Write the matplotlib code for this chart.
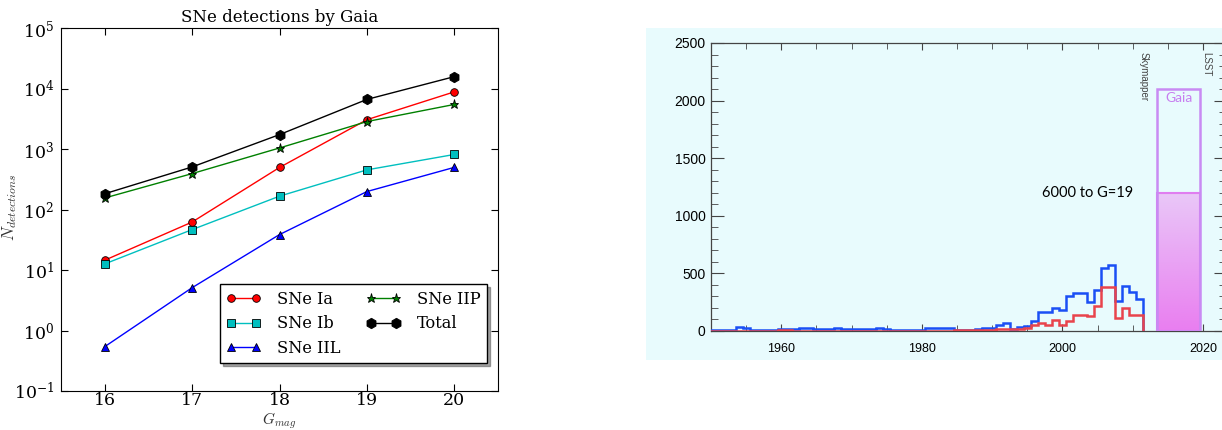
import numpy as np
import matplotlib
matplotlib.use('Agg')
import matplotlib.pyplot as plt
from matplotlib.patches import Rectangle
from matplotlib.colors import LinearSegmentedColormap
from matplotlib.ticker import MultipleLocator, NullLocator

plt.rcParams['font.family'] = 'DejaVu Serif'
plt.rcParams['mathtext.fontset'] = 'dejavuserif'

# Left panel: SNe detections by Gaia vs magnitude limit
gmag = [16, 17, 18, 19, 20]
sne_ia = [14.5, 62, 495, 3050, 8800]
sne_ib = [12.6, 46.5, 166, 452, 812]
sne_iil = [0.54, 5.1, 38.5, 198, 497]
sne_iip = [155, 392, 1040, 2840, 5450]
total = [182, 505, 1730, 6600, 15700]

# Right panel: SNe discovered per year (blue = all, red = subset)
years = list(range(1950, 2012))
blue_counts = [12, 12, 12, 12, 35, 25, 8, 8, 8, 8,
               20, 20, 20, 28, 28, 15, 15, 15, 28, 15,
               20, 20, 20, 15, 22, 15, 12, 12, 10, 12,
               12, 25, 25, 22, 22, 12, 12, 12, 20, 26,
               26, 55, 70, 17, 32, 46, 90, 162, 162, 197,
               180, 301, 330, 330, 249, 359, 547, 570, 258, 388,
               336, 281]
red_counts = [3, 3, 3, 3, 3, 3, 3, 3, 3, 3,
              8, 8, 3, 3, 3, 3, 3, 3, 3, 3,
              3, 3, 3, 3, 3, 3, 3, 3, 3, 3,
              3, 3, 3, 3, 3, 5, 5, 5, 8, 12,
              12, 20, 20, 17, 17, 30, 55, 70, 55, 98,
              55, 90, 142, 135, 127, 214, 382, 382, 113, 197,
              142, 142]
gaia_span = [2013.5, 2019.6]
gaia_total = 2100
gaia_g19 = 1200

fig = plt.figure(figsize=(12.22, 4.30), dpi=100)

# cyan backdrop behind the right panel
fig.patches.append(Rectangle((646/1222, 1-360/430), 576/1222, 332/430,
                             transform=fig.transFigure, facecolor='#e8fbfd',
                             edgecolor='none', zorder=-5))

# ---- left panel ----
ax = fig.add_axes([61/1222, 1-391/430, 437/1222, 363/430])
mk = dict(mec='k', mew=0.6, lw=1)
ax.plot(gmag, sne_ia, 'o-', color='r', ms=5.5, label='SNe Ia', **mk)
ax.plot(gmag, sne_ib, 's-', color='c', ms=5.5, label='SNe Ib', **mk)
ax.plot(gmag, sne_iil, '^-', color='b', ms=5.5, label='SNe IIL', **mk)
ax.plot(gmag, sne_iip, '*-', color='g', ms=6.5, label='SNe IIP', **mk)
ax.plot(gmag, total, 'h-', color='k', ms=7.5, label='Total', **mk)
ax.set_yscale('log')
ax.set_ylim(0.1, 1e5)
ax.set_xlim(15.5, 20.5)
ax.set_xticks(gmag)
ax.yaxis.set_minor_locator(NullLocator())
ax.tick_params(direction='in', top=True, right=True, length=5, labelsize=12.5)
ax.tick_params(axis='x', pad=1)
ax.tick_params(axis='y', pad=5)
ax.set_title('SNe detections by Gaia', fontsize=12, pad=4)
ax.set_xlabel('$G_{mag}$', fontsize=11, math_fontfamily='cm', color='#333333')
ax.set_ylabel('$N_{detections}$', fontsize=12, math_fontfamily='cm', color='#333333')
ax.xaxis.set_label_coords(0.5, -0.053)
ax.yaxis.set_label_coords(-0.095, 0.507)
leg = ax.legend(loc='lower right', bbox_to_anchor=(0.975, 0.077), borderaxespad=0,
                ncol=2, numpoints=2, shadow=True, fancybox=False, fontsize=11.7,
                handlelength=2.1, handletextpad=1.0, columnspacing=1.6,
                labelspacing=0.45, edgecolor='k', framealpha=1)
leg.get_frame().set_linewidth(1.0)

# ---- right panel ----
ax2 = fig.add_axes([711/1222, 1-331/430, 515/1222, 288/430])
ax2.patch.set_alpha(0)
edges = np.append(np.array(years) - 0.5, years[-1] + 0.5)
ax2.stairs(blue_counts, edges, baseline=0, color='#1a4ff5', lw=1.8, zorder=3)
ax2.stairs(red_counts, edges, baseline=0, color='#e8444c', lw=1.8, zorder=4)

gw = gaia_span[1] - gaia_span[0]
gc = gaia_span[0] + gw / 2
fill = ax2.bar(gc, gaia_g19, width=gw, color='none', edgecolor='#e07ef0', lw=1.5, zorder=3)
p = fill[0]
cmap = LinearSegmentedColormap.from_list('gaia', ['#e97ef0', '#e9c8f8'])
img = ax2.imshow(np.linspace(0, 1, 256).reshape(-1, 1), origin='lower', cmap=cmap,
                 extent=(p.get_x(), p.get_x() + p.get_width(), 0, p.get_height()),
                 aspect='auto', zorder=2)
img.set_clip_path(p)
ax2.bar(gc, gaia_total, width=gw, fill=False, edgecolor='#c98af3', lw=1.8, zorder=3)

ax2.set_xlim(1950, 2023.26)
ax2.set_ylim(0, 2500)
ax2.xaxis.set_major_locator(MultipleLocator(20))
ax2.xaxis.set_minor_locator(MultipleLocator(5))
ax2.yaxis.set_major_locator(MultipleLocator(500))
ax2.yaxis.set_minor_locator(MultipleLocator(100))
for s in ax2.spines.values():
    s.set_color('#444444')
    s.set_linewidth(0.9)
ax2.tick_params(axis='both', which='both', direction='in', top=True, right=True, colors='#444444')
ax2.tick_params(axis='y', which='major', length=9, labelsize=10, pad=4, labelcolor='k')
ax2.tick_params(axis='y', which='minor', length=5)
ax2.tick_params(axis='x', which='major', length=5, labelsize=9, pad=9, labelcolor='k')
ax2.tick_params(axis='x', which='minor', length=4)
for lab in ax2.get_xticklabels() + ax2.get_yticklabels():
    lab.set_family('Liberation Sans')

ax2.text(gc, 2020, 'Gaia', color='#c77ef0', fontsize=10, ha='center', va='center', family='Lato')
ax2.text(2010.1, 1200, '6000 to G=19', color='k', fontsize=10.5, ha='right', va='center', family='Lato')
ax2.text(2011.5, 2420, 'Skymapper', rotation=-90, fontsize=7, color='#444444',
         ha='center', va='top', family='Liberation Sans')
ax2.text(2020.4, 2420, 'LSST', rotation=-90, fontsize=7, color='#444444',
         ha='center', va='top', family='Liberation Sans')

fig.savefig('out.png', dpi=100)
